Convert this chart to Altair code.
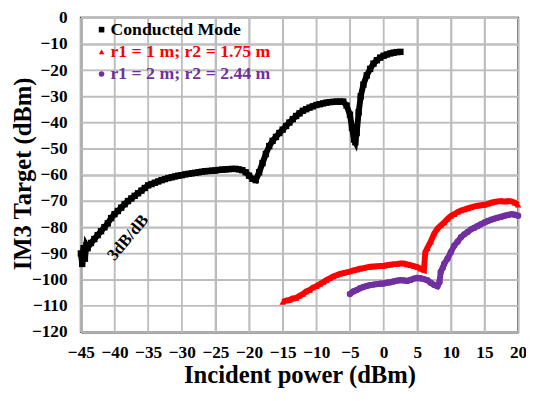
import altair as alt
import pandas as pd

# ---------------- data ----------------
names = ["Conducted Mode", "r1 = 1 m; r2 = 1.75 m", "r1 = 2 m; r2 = 2.44 m"]
colors = ["#000000", "#ff0000", "#7030a0"]
shapes = ["square", "triangle-up", "circle"]

cond_x = [-45, -44.8, -44.6, -44.4, -44.2, -44, -43.5, -43, -42.5, -42, -41.5, -41, -40.5, -40,
          -39.5, -39, -38.5, -38, -37.5, -37, -36.5, -36, -35.5, -35, -34.5, -34, -33.5, -33, -32.5, -32,
          -31.5, -31, -30.5, -30, -29.5, -29, -28.5, -28, -27.5, -27, -26.5, -26, -25.5, -25,
          -24.5, -24, -23.5, -23, -22.5, -22, -21.5, -21, -20.5, -20, -19.5, -19, -18.5, -18,
          -17.5, -17, -16.5, -16, -15.5, -15, -14.5, -14, -13.5, -13, -12.5, -12, -11.5, -11,
          -10.5, -10, -9.5, -9, -8.5, -8, -7.5, -7, -6.5, -6, -5.5, -5, -4.7, -4.4, -4.2,
          -4, -3.7, -3.4, -3, -2.5, -2, -1.5, -1, -0.5, 0, 0.5, 1, 1.5, 2, 2.5]
cond_y = [-90, -94, -88, -92, -87, -88, -86, -84.5, -83, -81.5, -80, -78.5, -76.5, -75,
          -73.8, -72.5, -71.2, -70, -69, -68, -67, -66, -65, -64, -63.5, -63, -62.5, -62, -61.6, -61.2,
          -60.9, -60.6, -60.3, -60.1, -59.8, -59.6, -59.4, -59.2, -59, -58.8, -58.6, -58.5, -58.4, -58.3,
          -58.1, -58, -57.9, -57.8, -57.7, -57.7, -57.9, -58.2, -59, -60.3, -61.5, -62, -59, -55.5,
          -52, -49, -47, -45.5, -44, -42.7, -41.3, -40, -38.7, -37.5, -36.5, -35.5, -34.9, -34.3,
          -33.8, -33.3, -33, -32.7, -32.4, -32.2, -32.1, -32, -32, -32, -33.5, -37, -42, -46.5, -47.5,
          -44, -36, -30, -25.5, -22, -19.5, -17.5, -16.2, -15.2, -14.5, -14, -13.6, -13.3, -13.1, -13]

r1_x = [-15, -14.5, -14, -13.5, -13, -12.5, -12, -11.5, -11, -10.5, -10, -9.5, -9, -8.5, -8,
        -7.5, -7, -6.5, -6, -5.5, -5, -4.5, -4, -3.5, -3, -2.5, -2, -1.5, -1, -0.5, 0, 0.5,
        1, 1.5, 2, 2.5, 3, 3.5, 4, 4.5, 5, 5.5, 6, 6.2, 6.5, 7, 7.5, 8, 8.5, 9, 9.5, 10,
        10.5, 11, 11.5, 12, 12.5, 13, 13.5, 14, 14.5, 15, 15.5, 16, 16.5, 17, 17.5, 18,
        18.5, 19, 19.5, 20]
r1_y = [-108.5, -108, -107.8, -107.2, -107, -106.2, -105.5, -104.5, -104, -103, -102.5, -101.8,
        -101, -100.2, -99.5, -98.8, -98.3, -97.8, -97.5, -97.2, -96.9, -96.5, -96.2, -95.8, -95.6,
        -95.3, -95.1, -95, -94.9, -94.8, -94.7, -94.5, -94.3, -94.1, -94, -93.8, -93.8, -94.2,
        -94.5, -94.8, -95.2, -95.8, -96.3, -89.5, -88, -85.5, -82.5, -80.5, -79.3, -78.2, -76.8,
        -75.7, -75, -74.2, -73.6, -73.2, -72.8, -72.4, -72, -71.8, -71.6, -71.4, -71, -70.6,
        -70.3, -70.1, -70, -70.2, -70, -70.1, -70.6, -71.4]

r2_x = [-5, -4.5, -4, -3.5, -3, -2.5, -2, -1.5, -1, -0.5, 0, 0.5, 1, 1.5, 2, 2.5, 3, 3.5,
        4, 4.5, 5, 5.5, 6, 6.5, 7, 7.5, 8, 8.3, 8.5, 8.8, 9, 9.5, 10, 10.5, 11, 11.5, 12,
        12.5, 13, 13.5, 14, 14.5, 15, 15.5, 16, 16.5, 17, 17.5, 18, 18.5, 19, 19.5, 20]
r2_y = [-105.5, -104.5, -104, -103.3, -102.8, -102.4, -102.1, -101.9, -101.7, -101.6, -101.5,
        -101.2, -101, -100.7, -100.4, -100.2, -100.3, -100.5, -100.1, -99.6, -99.4, -99.5, -99.8,
        -100.2, -101.2, -102, -102.5, -101, -97, -95.5, -94, -92, -89.5, -87, -85.5, -83.8,
        -82.7, -81.8, -80.8, -80.2, -79.5, -78.8, -78.2, -77.6, -77.1, -76.7, -76.3, -76,
        -75.6, -75.3, -75, -75.2, -75.6]

x_ticks = [-45, -40, -35, -30, -25, -20, -15, -10, -5, 0, 5, 10, 15, 20]
y_ticks = [0, -10, -20, -30, -40, -50, -60, -70, -80, -90, -100, -110, -120]

rows = []
for name, xs_, ys_ in zip(names, [cond_x, r1_x, r2_x], [cond_y, r1_y, r2_y]):
    for a, b in zip(xs_, ys_):
        rows.append({"p": a, "v": b, "s": name})
df = pd.DataFrame(rows)

FONT = "Liberation Serif"
W, H = 444, 319
GRID = "#bdbdbd"

common_axis = dict(ticks=True, tickSize=0, labelOverlap=False, grid=True,
                   gridColor=GRID, gridWidth=1.5, gridOpacity=1,
                   domainColor="#8c8c8c", domainWidth=2.5,
                   labelFont=FONT, titleFont=FONT, labelFontSize=17.5, labelFontWeight="bold",
                   titleFontWeight="bold", labelColor="black", titleColor="black")

x_enc = alt.X("p:Q", scale=alt.Scale(domain=[-45, 20], nice=False, zero=False),
              axis=alt.Axis(values=x_ticks, title="Incident power (dBm)", labelPadding=12,
                            titleFontSize=25, titleBaseline="alphabetic", titleY=51,
                            labelFlush=False, **common_axis))
y_enc = alt.Y("v:Q", scale=alt.Scale(domain=[-120, 0], nice=False, zero=False),
              axis=alt.Axis(values=y_ticks, title="IM3 Target (dBm)", labelPadding=14,
                            titleFontSize=25, titleX=-51, titleY=158, titleBaseline="alphabetic",
                            titleAngle=270, **common_axis))
color_enc = alt.Color("s:N", scale=alt.Scale(domain=names, range=colors), legend=None)
shape_enc = alt.Shape("s:N", scale=alt.Scale(domain=names, range=shapes), legend=None)

# grid lines drawn from the tick lists as well
vgrid = alt.Chart(pd.DataFrame({"p": x_ticks})).mark_rule(
    color=GRID, strokeWidth=1.5, opacity=1
).encode(x=x_enc, y=alt.value(0), y2=alt.value(H))
hgrid = alt.Chart(pd.DataFrame({"v": y_ticks})).mark_rule(
    color=GRID, strokeWidth=1.5, opacity=1
).encode(y=y_enc, x=alt.value(0), x2=alt.value(W))

base = alt.Chart(df)
lines = base.mark_line(strokeWidth=6).encode(x=x_enc, y=y_enc, color=color_enc, detail="s:N")
points = base.mark_point(filled=True, size=42, opacity=1).encode(
    x=x_enc, y=y_enc, color=color_enc, shape=shape_enc)

annot = alt.Chart(pd.DataFrame({"p": [-38], "v": [-84], "t": ["3dB/dB"]})).mark_text(
    angle=310, fontSize=17, fontWeight="bold", font=FONT, color="black"
).encode(x=x_enc, y=y_enc, text="t:N")

legend_layers = []
for i, (name, col, shp) in enumerate(zip(names, colors, shapes)):
    yy = 12 + 22.5 * i
    ld = pd.DataFrame({"t": [name]})
    legend_layers.append(alt.Chart(ld).mark_point(filled=True, size=32, shape=shp, color=col, opacity=1)
                         .encode(x=alt.value(21), y=alt.value(yy)))
    legend_layers.append(alt.Chart(ld).mark_text(align="left", baseline="middle", fontSize=18,
                                                 fontWeight="bold", font=FONT, color=col)
                         .encode(x=alt.value(30), y=alt.value(yy), text="t:N"))

chart = alt.layer(vgrid, hgrid, lines, points, annot, *legend_layers).properties(
    width=W, height=H, autosize="none",
    padding={"left": 74, "top": 7, "right": 8, "bottom": 60}
).configure_view(
    stroke="black", strokeWidth=2
)

chart.save("out.html", embed_options={"renderer": "svg", "actions": False})
